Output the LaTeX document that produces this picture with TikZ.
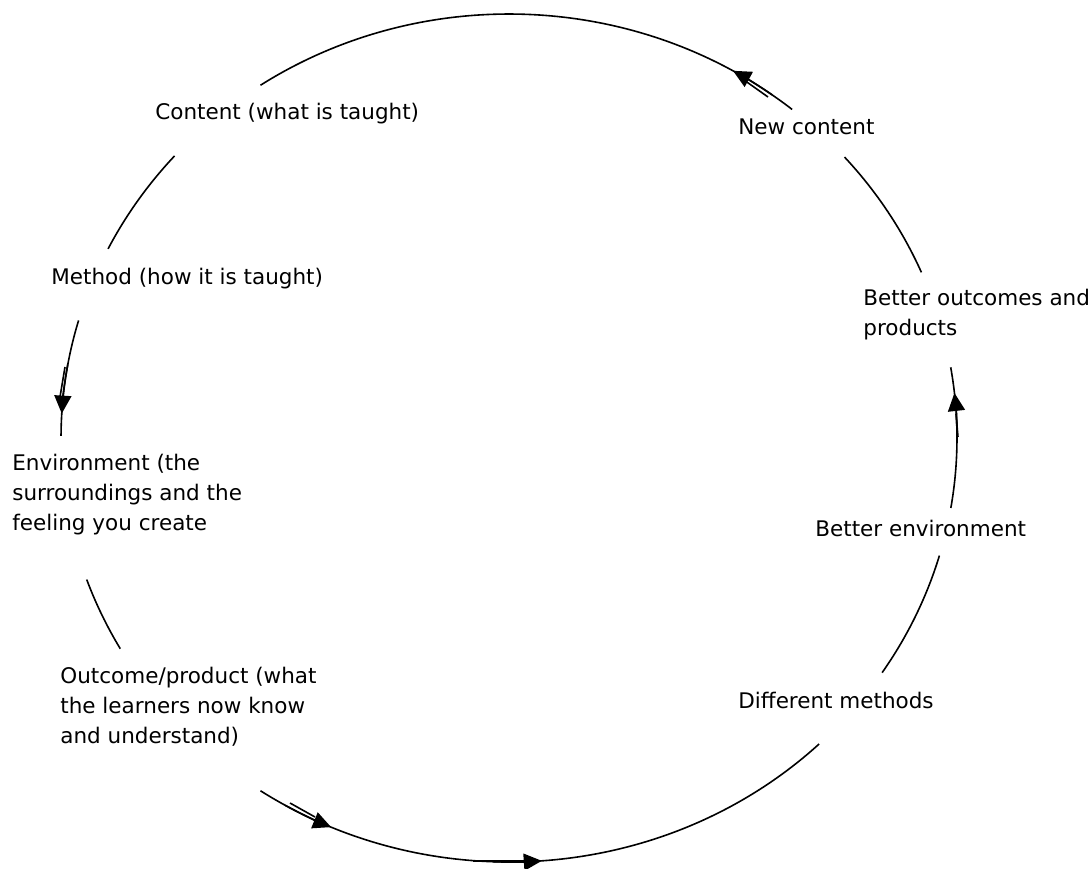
\documentclass[tikz,border=0pt]{standalone}
\usepackage{fontspec}
\setmainfont{DejaVu Sans}
\usetikzlibrary{arrows.meta}

\newcommand{\rx}{224pt }
\newcommand{\ry}{212pt }

\begin{document}
\begin{tikzpicture}[
            x=0.5pt,
            y=-0.5pt,
            stage/.style={
                anchor=base west,
                align=left,
                inner sep=0pt,
                font=\fontsize{10.75pt}{15pt}\selectfont
            },
            ring/.style={line width=0.8pt},
            tip/.style={ring, -{Triangle[length=9pt,width=8.5pt]}}
        ]
            \useasboundingbox (0,0) rectangle (1092,868);
            \coordinate (ctr) at (509,438);

            % multi-line stages sit on their last line
            \node[stage] (content) at (155,119) {Content (what is taught)};
            \node[stage] (newcontent) at (738,134) {New content};
            \node[stage] (method) at (51,284) {Method (how it is taught)};
            \node[stage] (betterout) at (863,335) {Better outcomes and\\products};
            \node[stage] (environment) at (12,530) {Environment (the\\surroundings and the\\feeling you create};
            \node[stage] (betterenv) at (815,536) {Better environment};
            \node[stage] (outcome) at (60,743) {Outcome/product (what\\the learners now know\\and understand)};
            \node[stage] (different) at (738,708) {Different methods};

            % ends of the arcs on the ring
            \coordinate (newcontent-a) at ([shift={(50.8:\rx and \ry)}]ctr);
            \coordinate (content-a) at ([shift={(138.3:\rx and \ry)}]ctr);
            \coordinate (method-a) at ([shift={(163.9:\rx and \ry)}]ctr);
            \coordinate (environment-a) at ([shift={(199.5:\rx and \ry)}]ctr);
            \coordinate (outcome-a) at ([shift={(236.3:\rx and \ry)}]ctr);
            \coordinate (different-a) at ([shift={(326.4:\rx and \ry)}]ctr);
            \coordinate (betterenv-a) at ([shift={(350.5:\rx and \ry)}]ctr);
            \coordinate (betterout-a) at ([shift={(23:\rx and \ry)}]ctr);

            \draw[ring] (newcontent-a) arc[start angle=50.8, end angle=123.7, x radius=\rx, y radius=\ry];
            \draw[ring] (content-a) arc[start angle=138.3, end angle=153.5, x radius=\rx, y radius=\ry];
            \draw[ring] (method-a) arc[start angle=163.9, end angle=179.7, x radius=\rx, y radius=\ry];
            \draw[ring] (environment-a) arc[start angle=199.5, end angle=209.8, x radius=\rx, y radius=\ry];
            \draw[ring] (outcome-a) arc[start angle=236.3, end angle=313.8, x radius=\rx, y radius=\ry];
            \draw[ring] (different-a) arc[start angle=326.4, end angle=343.9, x radius=\rx, y radius=\ry];
            \draw[ring] (betterenv-a) arc[start angle=350.5, end angle=369.6, x radius=\rx, y radius=\ry];
            \draw[ring] (betterout-a) arc[start angle=23, end angle=41.5, x radius=\rx, y radius=\ry];

            % arrow heads
            \draw[tip] ([shift={(54:\rx and \ry)}]ctr) arc[start angle=54, end angle=60, x radius=\rx, y radius=\ry];
            \draw[tip] ([shift={(170:\rx and \ry)}]ctr) arc[start angle=170, end angle=176.7, x radius=\rx, y radius=\ry];
            \draw[tip] ([shift={(240:\rx and \ry)}]ctr) arc[start angle=240, end angle=246.6, x radius=\rx, y radius=\ry];
            \draw[tip] ([shift={(268:\rx and \ry)}]ctr) arc[start angle=268, end angle=274.2, x radius=\rx, y radius=\ry];
            \draw[tip] ([shift={(0:\rx and \ry)}]ctr) arc[start angle=0, end angle=6.1, x radius=\rx, y radius=\ry];

            % doubled strokes beside the heads
            \draw[ring] (744,80) -- (768,97);
            \draw[ring] (65,367) -- (60,397);
            \draw[ring] (290,803) -- (315,817);
            \draw[ring] (956,414) -- (958,437);
            \draw[ring] (473,861) -- (525,861);
        \end{tikzpicture}
\end{document}
